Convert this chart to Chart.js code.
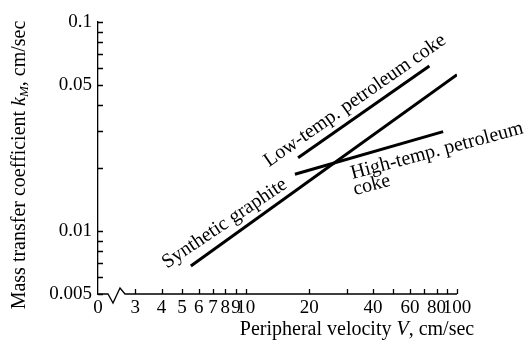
<!DOCTYPE html>
<html>
<head>
<meta charset="utf-8">
<script src="https://cdn.jsdelivr.net/npm/chart.js@4.4.0/dist/chart.umd.min.js"></script>
<style>
  html, body { margin: 0; padding: 0; background: #fff; }
  canvas { display: block; }
</style>
</head>
<body>
<canvas id="massChart" width="531" height="344"></canvas>
<script>
// Lines (velocity V in cm/sec, k_M in cm/sec)
const graphiteV = [5.5, 100];
const graphiteK = [0.0068, 0.056];
const lowTempV = [17.7, 74];
const lowTempK = [0.0224, 0.0616];
const highTempV = [17.1, 86];
const highTempK = [0.0187, 0.0299];

// Axis ticks (the "0" sits at the axis break, value 2 on the log scale)
const xTickValues = [2, 3, 4, 5, 6, 7, 8, 9, 10, 20, 30, 40, 50, 60, 70, 80, 90, 100];
const xTickLabels = ["0", "3", "4", "5", "6", "7", "8", "9", "10", "20", "", "40", "", "60", "", "80", "", "100"];
const yTickValues = [0.005, 0.006, 0.007, 0.008, 0.009, 0.01, 0.02, 0.03, 0.04, 0.05, 0.06, 0.07, 0.08, 0.09, 0.1];
const yTickLabels = ["0.005", "", "", "", "", "0.01", "", "", "", "0.05", "", "", "", "", "0.1"];

// In-plot labels, anchored in data coordinates
const noteText = ["Low-temp. petroleum coke", "Synthetic graphite", "High-temp. petroleum", "coke"];
const noteV = [32.9, 7.95, 80.4, 39.5];
const noteK = [0.0421, 0.01087, 0.02416, 0.01657];
const noteAngle = [-35, -34, -15, -15];

const SERIF = "'Liberation Serif', 'DejaVu Serif', serif";

function pts(xs, ys) {
  return xs.map((v, i) => ({ x: v, y: ys[i] }));
}

// draws inward ticks, broken x axis, titles and line labels
const paperPlugin = {
  id: "paper",
  afterDraw(chart) {
    const ctx = chart.ctx;
    const xs = chart.scales.x;
    const ys = chart.scales.y;
    const bottom = chart.chartArea.bottom;
    const left = chart.chartArea.left;
    ctx.save();
    ctx.strokeStyle = "#000";
    ctx.lineWidth = 1.3;

    // x axis with break
    const x0 = xs.getPixelForValue(2);
    ctx.beginPath();
    ctx.moveTo(x0, bottom);
    ctx.lineTo(x0 + 10, bottom);
    ctx.lineTo(x0 + 15, bottom + 9);
    ctx.lineTo(x0 + 22, bottom - 6);
    ctx.lineTo(x0 + 27, bottom);
    ctx.lineTo(xs.getPixelForValue(100), bottom);
    ctx.stroke();

    ctx.beginPath();
    xTickValues.forEach((v, i) => {
      if (i === 0) return;
      const px = Math.round(xs.getPixelForValue(v)) + 0.5;
      ctx.moveTo(px, bottom);
      ctx.lineTo(px, bottom - 5);
    });
    yTickValues.forEach((v) => {
      const py = Math.round(ys.getPixelForValue(v)) + 0.5;
      ctx.moveTo(left, py);
      ctx.lineTo(left + 5, py);
    });
    ctx.stroke();

    // notes along lines
    ctx.fillStyle = "#000";
    ctx.textAlign = "center";
    ctx.textBaseline = "middle";
    ctx.font = "20px " + SERIF;
    noteText.forEach((t, i) => {
      ctx.save();
      ctx.translate(xs.getPixelForValue(noteV[i]), ys.getPixelForValue(noteK[i]));
      ctx.rotate(noteAngle[i] * Math.PI / 180);
      ctx.fillText(t, 0, 0);
      ctx.restore();
    });

    // y title: Mass transfer coefficient k_M, cm/sec
    ctx.save();
    ctx.translate(20, 165);
    ctx.rotate(-Math.PI / 2);
    drawRuns(ctx, [
      ["Mass transfer coefficient ", "20px", 0],
      ["k", "italic 20px", 0],
      ["M", "italic 13px", 5],
      [", cm/sec", "20px", 0],
    ]);
    ctx.restore();

    // x title: Peripheral velocity V, cm/sec
    ctx.save();
    ctx.translate(357, 330);
    drawRuns(ctx, [
      ["Peripheral velocity ", "20px", 0],
      ["V", "italic 20px", 0],
      [", cm/sec", "20px", 0],
    ]);
    ctx.restore();
    ctx.restore();
  },
};

function drawRuns(ctx, runs) {
  let total = 0;
  runs.forEach((r) => {
    ctx.font = r[1] + " " + SERIF;
    total += ctx.measureText(r[0]).width;
  });
  let x = -total / 2;
  ctx.textAlign = "left";
  ctx.textBaseline = "middle";
  runs.forEach((r) => {
    ctx.font = r[1] + " " + SERIF;
    ctx.fillText(r[0], x, r[2]);
    x += ctx.measureText(r[0]).width;
  });
}

const lineStyle = { borderColor: "#000", borderWidth: 3, pointRadius: 0, showLine: true, fill: false };

new Chart(document.getElementById("massChart"), {
  type: "scatter",
  data: {
    datasets: [
      { label: "Synthetic graphite", data: pts(graphiteV, graphiteK), ...lineStyle },
      { label: "Low-temp. petroleum coke", data: pts(lowTempV, lowTempK), ...lineStyle },
      { label: "High-temp. petroleum coke", data: pts(highTempV, highTempK), ...lineStyle },
    ],
  },
  options: {
    responsive: false,
    animation: false,
    devicePixelRatio: 1,
    layout: { padding: { top: 22, right: 74, left: 0, bottom: 0 } },
    plugins: { legend: { display: false }, tooltip: { enabled: false } },
    scales: {
      x: {
        type: "logarithmic",
        min: 2,
        max: 100,
        afterBuildTicks: (s) => { s.ticks = xTickValues.map((v) => ({ value: v })); },
        afterFit: (s) => { s.height = 50; },
        grid: { display: false, drawTicks: false },
        border: { display: false },
        ticks: {
          autoSkip: false,
          maxRotation: 0,
          padding: 3,
          color: "#000",
          font: { family: SERIF, size: 19 },
          callback: (v, i) => xTickLabels[i],
        },
      },
      y: {
        type: "logarithmic",
        min: 0.005,
        max: 0.1,
        afterBuildTicks: (s) => { s.ticks = yTickValues.map((v) => ({ value: v })); },
        afterFit: (s) => { s.width = 98; },
        grid: { display: false, drawTicks: false },
        border: { display: true, color: "#000", width: 1.3 },
        ticks: {
          autoSkip: false,
          padding: 6,
          color: "#000",
          font: { family: SERIF, size: 19 },
          callback: (v, i) => yTickLabels[i],
        },
      },
    },
  },
  plugins: [paperPlugin],
});
</script>
</body>
</html>
